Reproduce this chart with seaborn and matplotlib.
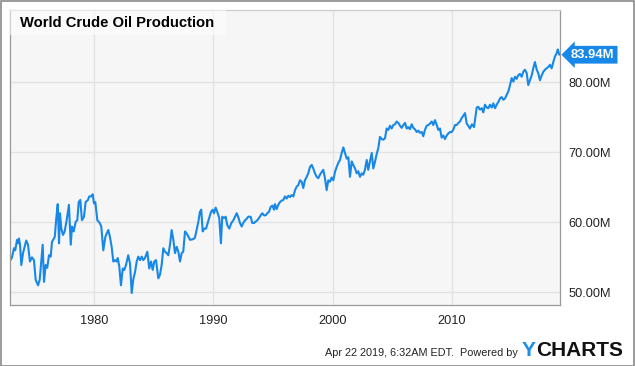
import matplotlib
matplotlib.use("Agg")
import matplotlib.pyplot as plt
from matplotlib.patches import Rectangle
import seaborn as sns
import pandas as pd

title = "World Crude Oil Production"
last_label = "83.94M"
footer = "Apr 22 2019, 6:32AM EDT.  Powered by"
x_ticks = [1980, 1990, 2000, 2010]
y_ticks = [50, 60, 70, 80]

years = [
    1973.00, 1973.13, 1973.29, 1973.40, 1973.55, 1973.63, 1973.71, 1973.80, 1973.91, 1974.05,
    1974.32, 1974.47, 1974.63, 1974.80, 1974.97, 1975.11, 1975.31, 1975.45, 1975.70, 1975.81,
    1975.95, 1976.08, 1976.23, 1976.37, 1976.48, 1976.71, 1976.84, 1976.96, 1977.07, 1977.15,
    1977.26, 1977.40, 1977.54, 1977.71, 1977.90, 1978.05, 1978.16, 1978.30, 1978.47, 1978.60,
    1978.72, 1978.85, 1978.99, 1979.16, 1979.30, 1979.50, 1979.60, 1979.77, 1979.89, 1980.00,
    1980.11, 1980.28, 1980.48, 1980.61, 1980.78, 1980.95, 1981.06, 1981.20, 1981.34, 1981.48,
    1981.62, 1981.76, 1981.90, 1981.99, 1982.12, 1982.26, 1982.41, 1982.54, 1982.68, 1982.87,
    1983.02, 1983.16, 1983.29, 1983.44, 1983.58, 1983.71, 1983.86, 1984.00, 1984.13, 1984.27,
    1984.47, 1984.63, 1984.78, 1984.92, 1985.05, 1985.20, 1985.39, 1985.53, 1985.67, 1985.81,
    1985.95, 1986.09, 1986.23, 1986.37, 1986.51, 1986.65, 1986.79, 1986.93, 1987.07, 1987.21,
    1987.35, 1987.48, 1987.63, 1987.77, 1987.90, 1988.05, 1988.32, 1988.46, 1988.61, 1988.74,
    1988.88, 1988.99, 1989.11, 1989.24, 1989.39, 1989.53, 1989.66, 1989.81, 1989.95, 1990.06,
    1990.20, 1990.33, 1990.50, 1990.64, 1990.75, 1990.90, 1991.04, 1991.17, 1991.34, 1991.51,
    1991.68, 1991.82, 1991.96, 1992.10, 1992.24, 1992.38, 1992.51, 1992.66, 1992.80, 1992.93,
    1993.13, 1993.27, 1993.41, 1993.55, 1993.69, 1993.83, 1993.97, 1994.11, 1994.25, 1994.39,
    1994.53, 1994.67, 1994.81, 1994.95, 1995.09, 1995.17, 1995.31, 1995.45, 1995.59, 1995.73,
    1995.87, 1996.01, 1996.15, 1996.29, 1996.43, 1996.57, 1996.71, 1996.85, 1996.99, 1997.12,
    1997.27, 1997.41, 1997.54, 1997.68, 1997.83, 1997.96, 1998.10, 1998.25, 1998.38, 1998.52,
    1998.67, 1998.80, 1998.94, 1999.09, 1999.22, 1999.36, 1999.50, 1999.64, 1999.78, 1999.92,
    2000.06, 2000.20, 2000.34, 2000.48, 2000.62, 2000.76, 2000.90, 2001.04, 2001.18, 2001.32,
    2001.46, 2001.60, 2001.73, 2001.88, 2002.02, 2002.15, 2002.30, 2002.44, 2002.57, 2002.71,
    2002.86, 2002.99, 2003.13, 2003.28, 2003.41, 2003.56, 2003.70, 2003.83, 2003.97, 2004.11,
    2004.25, 2004.39, 2004.53, 2004.67, 2004.81, 2004.95, 2005.09, 2005.23, 2005.37, 2005.51,
    2005.65, 2005.79, 2005.93, 2006.07, 2006.21, 2006.34, 2006.48, 2006.63, 2006.76, 2006.90,
    2007.05, 2007.18, 2007.32, 2007.47, 2007.60, 2007.74, 2007.89, 2008.02, 2008.16, 2008.31,
    2008.44, 2008.58, 2008.73, 2008.86, 2009.00, 2009.14, 2009.28, 2009.42, 2009.56, 2009.70,
    2009.84, 2009.98, 2010.11, 2010.26, 2010.40, 2010.54, 2010.68, 2010.82, 2010.95, 2011.10,
    2011.24, 2011.37, 2011.51, 2011.68, 2011.85, 2012.08, 2012.21, 2012.35, 2012.50, 2012.63,
    2012.77, 2012.92, 2013.05, 2013.19, 2013.34, 2013.47, 2013.61, 2013.75, 2013.89, 2014.03,
    2014.17, 2014.31, 2014.45, 2014.59, 2014.73, 2014.87, 2015.01, 2015.15, 2015.29, 2015.43,
    2015.56, 2015.70, 2015.85, 2015.98, 2016.12, 2016.27, 2016.40, 2016.54, 2016.69, 2016.82,
    2016.96, 2017.11, 2017.24, 2017.38, 2017.53, 2017.66, 2017.80, 2017.94, 2018.08, 2018.22,
    2018.36, 2018.50, 2018.64, 2018.79, 2018.87, 2019.00,
]

production_m = [
    54.6, 55.0, 56.3, 56.0, 57.5, 57.0, 57.7, 56.8, 53.9, 55.6,
    57.4, 56.8, 54.4, 55.0, 54.6, 51.8, 51.0, 51.8, 56.8, 51.5,
    53.9, 53.5, 55.3, 55.1, 57.2, 57.9, 60.6, 62.6, 57.0, 61.3,
    59.1, 58.2, 58.7, 60.3, 62.5, 56.8, 59.4, 58.7, 60.1, 60.3,
    62.9, 63.2, 60.3, 60.8, 62.9, 63.2, 63.7, 63.7, 64.0, 62.7,
    62.9, 60.3, 59.9, 59.4, 56.0, 57.9, 58.4, 58.9, 57.9, 56.5,
    54.4, 54.6, 54.4, 54.9, 53.7, 51.0, 53.4, 53.2, 53.9, 55.3,
    54.1, 49.9, 51.8, 52.9, 54.4, 55.1, 54.6, 55.1, 54.6, 54.9,
    55.8, 53.4, 54.4, 53.2, 54.4, 54.6, 52.0, 52.5, 53.9, 56.3,
    55.8, 55.6, 55.3, 56.8, 58.9, 57.5, 55.6, 56.5, 55.8, 54.4,
    55.6, 55.8, 58.7, 58.4, 58.0, 57.5, 57.6, 57.8, 59.0, 60.0,
    61.5, 61.8, 58.7, 59.1, 59.1, 59.9, 60.6, 61.5, 61.8, 61.3,
    62.1, 61.5, 60.6, 57.0, 60.8, 60.6, 60.8, 59.6, 59.1, 59.9,
    60.3, 60.8, 61.3, 60.7, 59.9, 59.4, 59.9, 60.3, 60.5, 60.8,
    60.8, 59.9, 59.9, 60.1, 60.3, 60.6, 61.0, 61.3, 61.0, 61.0,
    61.3, 61.5, 62.2, 62.4, 61.8, 62.6, 61.9, 62.5, 62.9, 63.1,
    63.2, 63.7, 63.4, 63.8, 63.6, 63.9, 63.7, 64.6, 65.1, 65.3,
    66.0, 65.8, 64.9, 66.0, 66.5, 67.0, 67.9, 68.2, 67.7, 67.0,
    66.5, 66.3, 66.8, 67.2, 67.5, 66.3, 64.6, 66.0, 65.8, 66.4,
    66.0, 67.2, 67.9, 68.5, 68.9, 69.9, 70.7, 69.9, 69.1, 69.3,
    66.5, 68.7, 68.2, 67.7, 67.0, 67.3, 66.5, 67.0, 66.8, 67.5,
    68.9, 67.5, 68.7, 69.9, 67.7, 68.7, 69.8, 70.6, 72.2, 71.9,
    71.8, 72.0, 73.4, 73.2, 73.8, 73.4, 73.9, 74.0, 74.4, 74.2,
    73.8, 73.5, 73.9, 74.2, 73.4, 73.6, 73.3, 74.0, 73.5, 73.3,
    72.9, 73.1, 72.8, 72.9, 72.3, 73.2, 73.8, 73.9, 74.1, 74.4,
    73.9, 74.6, 73.9, 73.2, 73.4, 72.1, 72.4, 71.9, 72.4, 72.7,
    72.9, 72.9, 73.2, 73.9, 73.9, 74.2, 74.4, 74.9, 75.2, 75.6,
    74.1, 73.8, 73.4, 74.0, 73.6, 76.4, 76.5, 76.1, 76.3, 75.7,
    76.8, 76.4, 76.3, 76.8, 76.4, 77.0, 76.3, 76.8, 77.2, 77.7,
    77.9, 77.5, 77.7, 78.2, 78.7, 79.6, 80.6, 80.1, 80.8, 80.5,
    81.0, 81.2, 80.8, 81.5, 81.8, 81.3, 79.6, 80.3, 81.0, 82.0,
    82.9, 81.8, 81.3, 80.3, 81.0, 81.5, 81.8, 82.0, 82.2, 82.5,
    82.0, 82.9, 83.7, 84.2, 84.7, 83.94,
]

df = pd.DataFrame({"year": years, "production": production_m})

sns.set_style("white")
plt.rcParams["font.family"] = ["Liberation Sans", "DejaVu Sans"]

W, H = 635, 366
fig = plt.figure(figsize=(W / 100, H / 100), dpi=100)
fig.patch.set_facecolor("white")

L, R, T, B = 10, 560, 10, 305
ax = fig.add_axes([L / W, 1 - B / H, (R - L) / W, (B - T) / H])
ax.set_facecolor("#f6f6f6")

blue = "#1788e8"
sns.lineplot(data=df, x="year", y="production", ax=ax, color=blue, linewidth=1.5)

ax.set_xlim(1972.96, 2019.06)
ax.set_ylim(48.19, 90.33)
ax.set_xticks(x_ticks)
ax.set_xticklabels([str(t) for t in x_ticks])
ax.set_yticks(y_ticks)
ax.set_yticklabels([f"{t:.2f}M" for t in y_ticks])
ax.yaxis.tick_right()
ax.tick_params(axis="both", length=0, labelsize=9.2, colors="#222222")
ax.tick_params(axis="y", pad=6)
ax.tick_params(axis="x", pad=7)
ax.grid(True, color="#e2e2e2", linewidth=1)
ax.set_axisbelow(True)
ax.set_xlabel("")
ax.set_ylabel("")
for side in ["left", "right", "bottom", "top"]:
    ax.spines[side].set_visible(True)
    ax.spines[side].set_color("#999999")
    ax.spines[side].set_linewidth(0.9)
ax.spines["top"].set_color("#cccccc")

# Title box
fig.patches.append(Rectangle((L / W, 1 - 35 / H), 216 / W, 25 / H,
                             transform=fig.transFigure, facecolor="white",
                             alpha=0.55, edgecolor="none", zorder=2))
fig.text(20 / W, 1 - 23 / H, title, fontsize=10.6, fontweight="bold",
         color="black", ha="left", va="center", zorder=3)

# last value label
ax.annotate(last_label, xy=(1, production_m[-1]), xycoords=("axes fraction", "data"),
            xytext=(8, 0), textcoords="offset points", ha="left", va="center",
            color="white", fontweight="bold", fontsize=9.4,
            bbox=dict(boxstyle="larrow,pad=0.22", facecolor=blue, edgecolor="none"),
            annotation_clip=False)

# Footer
fig.text(518 / W, 1 - 353 / H, footer, fontsize=7.8, color="#222222",
         ha="right", va="center")
fig.text(522 / W, 1 - 351 / H, "Y", fontsize=15, fontweight="bold",
         color="#1a8fe8", ha="left", va="center")
fig.text(536 / W, 1 - 351 / H, "CHARTS", fontsize=15, fontweight="bold",
         color="#111111", ha="left", va="center")

# Outer frame
fig.patches.append(Rectangle((0.5 / W, 0.5 / H), (W - 1.5) / W, (H - 1.5) / H,
                             transform=fig.transFigure, facecolor="none",
                             edgecolor="#8a8a8a", linewidth=1.2, zorder=5))

fig.savefig("out.png", dpi=100)
